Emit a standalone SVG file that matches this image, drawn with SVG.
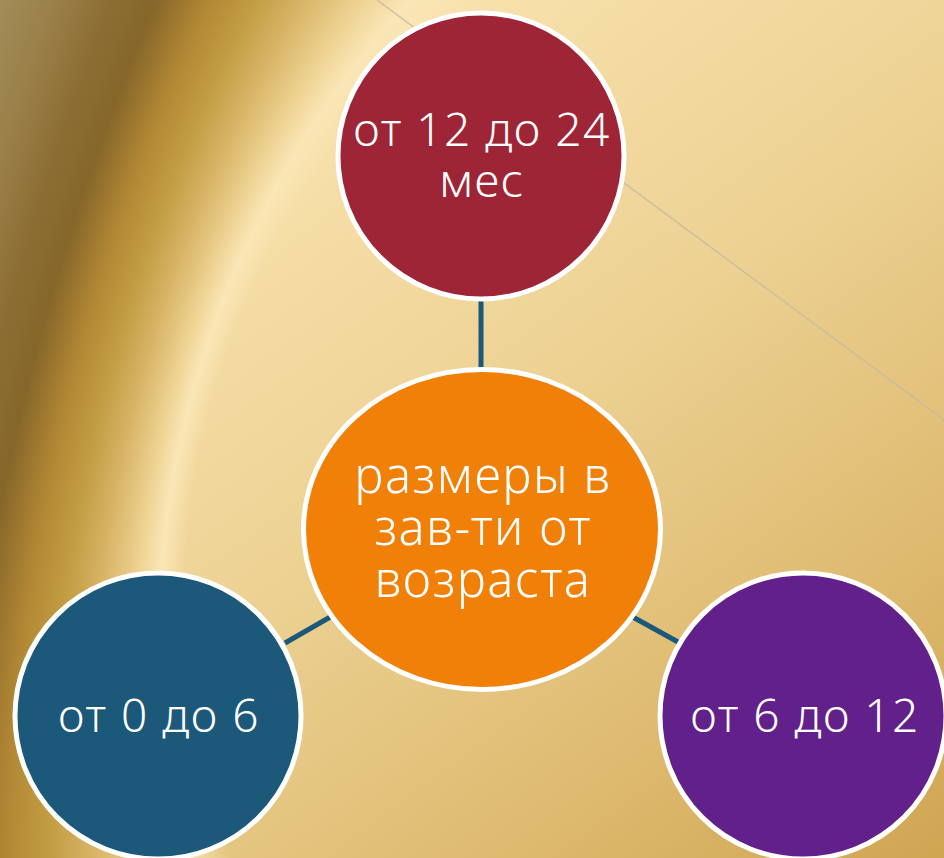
<svg xmlns="http://www.w3.org/2000/svg" width="944" height="858" viewBox="0 0 944 858">
  <defs>
    <linearGradient id="base" gradientUnits="userSpaceOnUse" x1="350" y1="50" x2="944" y2="858">
      <stop offset="0" stop-color="#f9e2ae"/>
      <stop offset="0.4" stop-color="#ecd192"/>
      <stop offset="0.75" stop-color="#ddb96e"/>
      <stop offset="1" stop-color="#cfa552"/>
    </linearGradient>
    <radialGradient id="swoosh" gradientUnits="userSpaceOnUse" cx="3685" cy="1304" r="3909" fx="281" fy="432">
      <stop offset="0" stop-color="#fae6b6" stop-opacity="0"/>
      <stop offset="0.19" stop-color="#fae6b6" stop-opacity="0"/>
      <stop offset="0.242" stop-color="#fae6b6" stop-opacity="1"/>
      <stop offset="0.30" stop-color="#ecd08e"/>
      <stop offset="0.38" stop-color="#d6b264"/>
      <stop offset="0.46" stop-color="#c29c42"/>
      <stop offset="0.55" stop-color="#b08634"/>
      <stop offset="0.652" stop-color="#86662a"/>
      <stop offset="0.75" stop-color="#8c6e34"/>
      <stop offset="0.87" stop-color="#9a8048"/>
      <stop offset="1" stop-color="#a28c5a"/>
    </radialGradient>
    <style>
      .node { stroke: #ffffff; stroke-width: 5; }
      .conn { stroke: #1b587a; stroke-width: 5; fill: none; }
      .lbl { fill: #ffffff; font-family: "Noto Sans", "Open Sans", "Liberation Sans", sans-serif; font-weight: 300; text-anchor: middle; letter-spacing: 1.5px; }
    </style>
  </defs>

  <g id="background">
    <rect x="0" y="0" width="944" height="858" fill="url(#base)"/>
    <rect x="0" y="0" width="944" height="858" fill="url(#swoosh)"/>
    <line x1="377" y1="0" x2="944" y2="420" stroke="#c6bca2" stroke-width="1.5" opacity="0.85"/>
  </g>

  <g id="connectors">
    <line class="conn" x1="481" y1="300" x2="481" y2="369"/>
    <line class="conn" x1="285" y1="643" x2="332" y2="616"/>
    <line class="conn" x1="631" y1="616" x2="678" y2="642"/>
  </g>

  <g id="node-top">
    <circle class="node" cx="481" cy="156" r="143" fill="#9e2536"/>
    <text class="lbl" x="482" y="146" font-size="46">от 12 до 24</text>
    <text class="lbl" x="482" y="197" font-size="46">мес</text>
  </g>

  <g id="node-center">
    <ellipse class="node" cx="482" cy="529.5" rx="178.5" ry="160" fill="#f08008"/>
    <text class="lbl" x="483" y="493" font-size="49">размеры в</text>
    <text class="lbl" x="483" y="545" font-size="49">зав-ти от</text>
    <text class="lbl" x="483" y="597" font-size="49">возраста</text>
  </g>

  <g id="node-left">
    <circle class="node" cx="158" cy="716" r="143" fill="#1b587a"/>
    <text class="lbl" x="159" y="732" font-size="46">от 0 до 6</text>
  </g>

  <g id="node-right">
    <circle class="node" cx="803" cy="716" r="143" fill="#62208a"/>
    <text class="lbl" x="805" y="732" font-size="46">от 6 до 12</text>
  </g>
</svg>
